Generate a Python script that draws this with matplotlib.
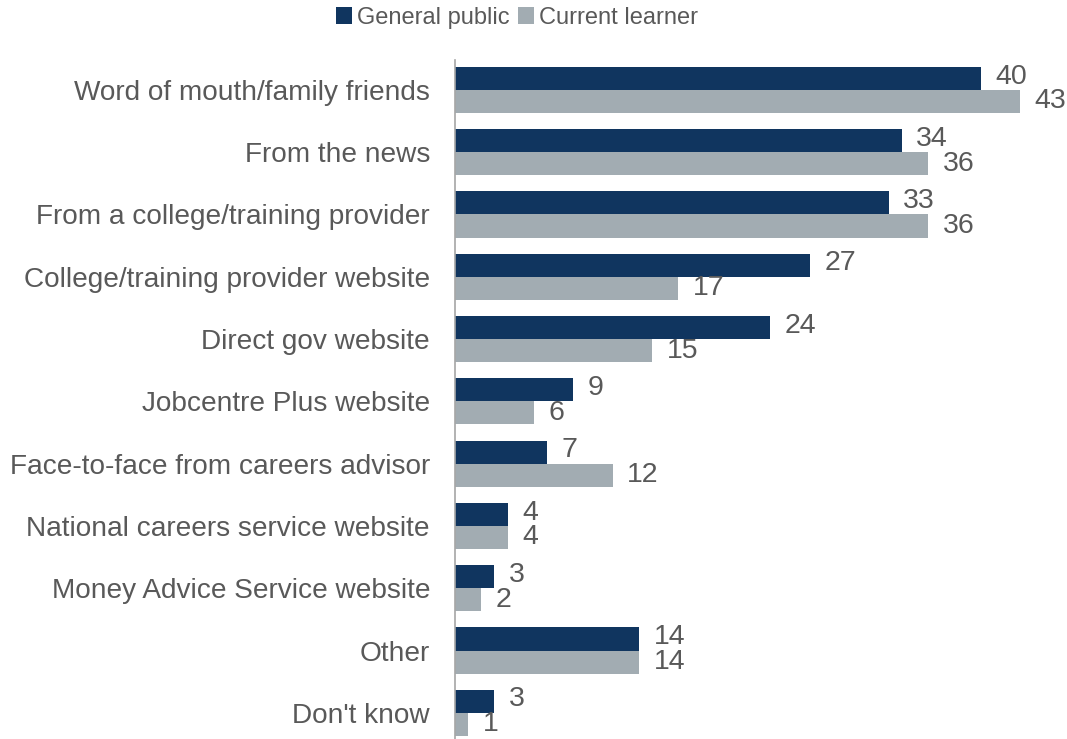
import matplotlib
matplotlib.use("Agg")
import matplotlib.pyplot as plt
import numpy as np
from matplotlib.patches import Patch

categories = [
    "Word of mouth/family friends",
    "From the news",
    "From a college/training provider",
    "College/training provider website",
    "Direct gov website",
    "Jobcentre Plus website",
    "Face-to-face from careers advisor",
    "National careers service website",
    "Money Advice Service website",
    "Other",
    "Don't know",
]
general_public = [40, 34, 33, 27, 24, 9, 7, 4, 3, 14, 3]
current_learner = [43, 36, 36, 17, 15, 6, 12, 4, 2, 14, 1]
series_names = ["General public", "Current learner"]

navy = "#10355F"
grey = "#A2ACB2"
text_col = "#595959"

plt.rcParams["font.family"] = ["Liberation Sans", "DejaVu Sans"]

W, H = 1067, 739
fig = plt.figure(figsize=(W / 100, H / 100), dpi=100)
ax = fig.add_axes([455 / W, 0, (W - 455) / W, 1 - 60 / H])

y = np.arange(len(categories))
h = 0.37
ax.barh(y - h / 2, general_public, height=h, color=navy)
ax.barh(y + h / 2, current_learner, height=h, color=grey)

for yi, v in zip(y, general_public):
    ax.text(v + 1.1, yi - h / 2 - 0.03, str(v), va="center", ha="left",
            fontsize=20.5, color=text_col)
for yi, v in zip(y, current_learner):
    ax.text(v + 1.1, yi + h / 2, str(v), va="center", ha="left",
            fontsize=20.5, color=text_col)

ax.set_xlim(0, (W - 455) / 13.14)
ax.set_ylim(10.42, -0.48)
ax.set_yticks(y)
ax.set_yticklabels(categories, fontsize=20.2, color=text_col)
ax.tick_params(axis="y", length=0, pad=18)
ax.set_xticks([])
for s in ["top", "right", "bottom"]:
    ax.spines[s].set_visible(False)
ax.spines["left"].set_color("#A6A6A6")
ax.spines["left"].set_linewidth(1.2)

handles = [Patch(facecolor=navy), Patch(facecolor=grey)]
fig.legend(handles, series_names, loc="center", bbox_to_anchor=(517 / W, 1 - 18 / H),
           ncol=2, frameon=False, fontsize=17, labelcolor=text_col,
           handlelength=0.7, handleheight=0.7, handletextpad=0.2,
           columnspacing=0.35, borderaxespad=0.0, borderpad=0.0)

fig.savefig("out.png", dpi=100)
